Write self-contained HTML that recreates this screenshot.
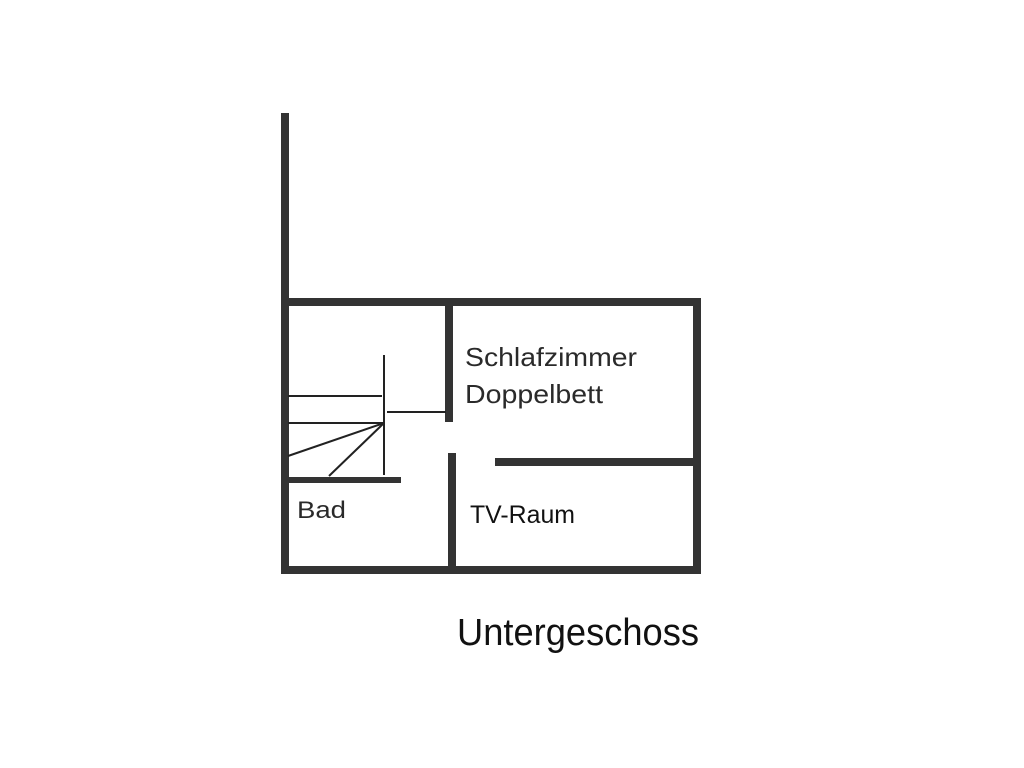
<!DOCTYPE html>
<html><head><meta charset="utf-8"><style>html,body{margin:0;padding:0;background:#fff}svg{display:block}</style></head>
<body>
<svg width="1024" height="768" viewBox="0 0 1024 768" xmlns="http://www.w3.org/2000/svg">
<g fill="#333">
<rect x="281" y="113" width="8" height="461"/>
<rect x="281" y="298" width="420" height="8"/>
<rect x="693" y="298" width="8" height="276"/>
<rect x="281" y="566" width="420" height="8"/>
<rect x="445" y="298" width="8" height="124"/>
<rect x="448" y="453" width="8" height="121"/>
<rect x="495" y="458" width="206" height="8"/>
<rect x="288" y="477" width="113" height="6"/>
</g>
<g stroke="#222" stroke-width="2" fill="none">
<line x1="384" y1="355" x2="384" y2="475"/>
<line x1="288" y1="396" x2="382" y2="396"/>
<line x1="288" y1="423" x2="384" y2="423"/>
<line x1="387" y1="412" x2="446" y2="412"/>
<line x1="384" y1="423" x2="288" y2="456"/>
<line x1="384" y1="423" x2="329" y2="476"/>
</g>
<g font-family="Liberation Sans, sans-serif" fill="#2a2a2a">
<text x="465" y="366" font-size="26" textLength="172" lengthAdjust="spacingAndGlyphs">Schlafzimmer</text>
<text x="465" y="403" font-size="26" textLength="138" lengthAdjust="spacingAndGlyphs">Doppelbett</text>
<text x="297" y="518" font-size="24" textLength="49" lengthAdjust="spacingAndGlyphs">Bad</text>
<text x="470" y="523" font-size="25" fill="#111" textLength="105" lengthAdjust="spacingAndGlyphs">TV-Raum</text>
<text x="457" y="645" font-size="38" fill="#111" textLength="242" lengthAdjust="spacingAndGlyphs">Untergeschoss</text>
</g>
</svg>
</body></html>
